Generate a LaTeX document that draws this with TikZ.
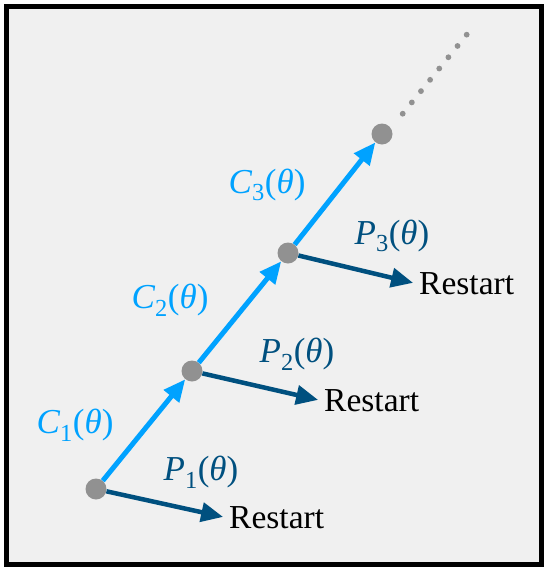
\documentclass[tikz,border=0pt]{standalone}
\usepackage{fontspec}
\setmainfont{Liberation Serif}
\usetikzlibrary{arrows.meta, positioning}
\definecolor{chainblue}{HTML}{00A2FF}
\definecolor{restartblue}{HTML}{00507F}
\definecolor{dotgrey}{HTML}{919191}
\definecolor{panelgrey}{HTML}{F0F0F0}
\tikzset{
    chaindiagram/.style={x=1pt, y=-1pt, font=\fontsize{33.5}{38}\selectfont},
    state/.style={circle, fill=dotgrey, minimum size=21pt, inner sep=0pt},
    chain/.style={draw=chainblue, line width=5pt, -{Triangle[length=22pt, width=19pt]}},
    restart/.style={draw=restartblue, line width=4.5pt, shorten >=5pt, -{Triangle[length=22pt, width=19pt]}},
    clabel/.style={text=chainblue, font=\fontsize{35}{40}\selectfont},
    plabel/.style={text=restartblue, font=\fontsize{35}{40}\selectfont},
    outcome/.style={inner sep=1pt, anchor=west},
}
\begin{document}
\begin{tikzpicture}[chaindiagram]
    \useasboundingbox (0,0) rectangle (548,571);
    \draw[line width=5pt, fill=panelgrey] (6.5,6.5) rectangle (541,564);

    % states along the chain
    \node[state] (d1) at (96,489) {};
    \node[state] (d2) at (192,371) {};
    \node[state] (d3) at (288,253) {};
    \node[state] (d4) at (382,134) {};

    % restart outcomes
    \node[outcome] (r1) at (228,518) {Restart};
    \node[outcome] (r2) at (323,401) {Restart};
    \node[outcome] (r3) at (418,284) {Restart};

    \draw[chain] (d1) -- (d2);
    \draw[chain] (d2) -- (d3);
    \draw[chain] (d3) -- (d4);
    \draw[restart] (d1) -- (r1.west);
    \draw[restart] (d2) -- (r2.west);
    \draw[restart] (d3) -- (r3.west);

    \node[clabel] (c1) at (75,425) {\textit{C}\textsubscript{1}(\textit{θ})};
    \node[clabel] (c2) at (170,300) {\textit{C}\textsubscript{2}(\textit{θ})};
    \node[clabel] (c3) at (267,185) {\textit{C}\textsubscript{3}(\textit{θ})};
    \node[plabel] (p1) at (201,472) {\textit{P}\textsubscript{1}(\textit{θ})};
    \node[plabel] (p2) at (297,354) {\textit{P}\textsubscript{2}(\textit{θ})};
    \node[plabel] (p3) at (392,236) {\textit{P}\textsubscript{3}(\textit{θ})};

    % the chain goes on
    \foreach \k in {0,...,7}
        \fill[dotgrey] (402.7+9.14*\k, 113.7-11.29*\k) circle (2.9pt);
\end{tikzpicture}
\end{document}
